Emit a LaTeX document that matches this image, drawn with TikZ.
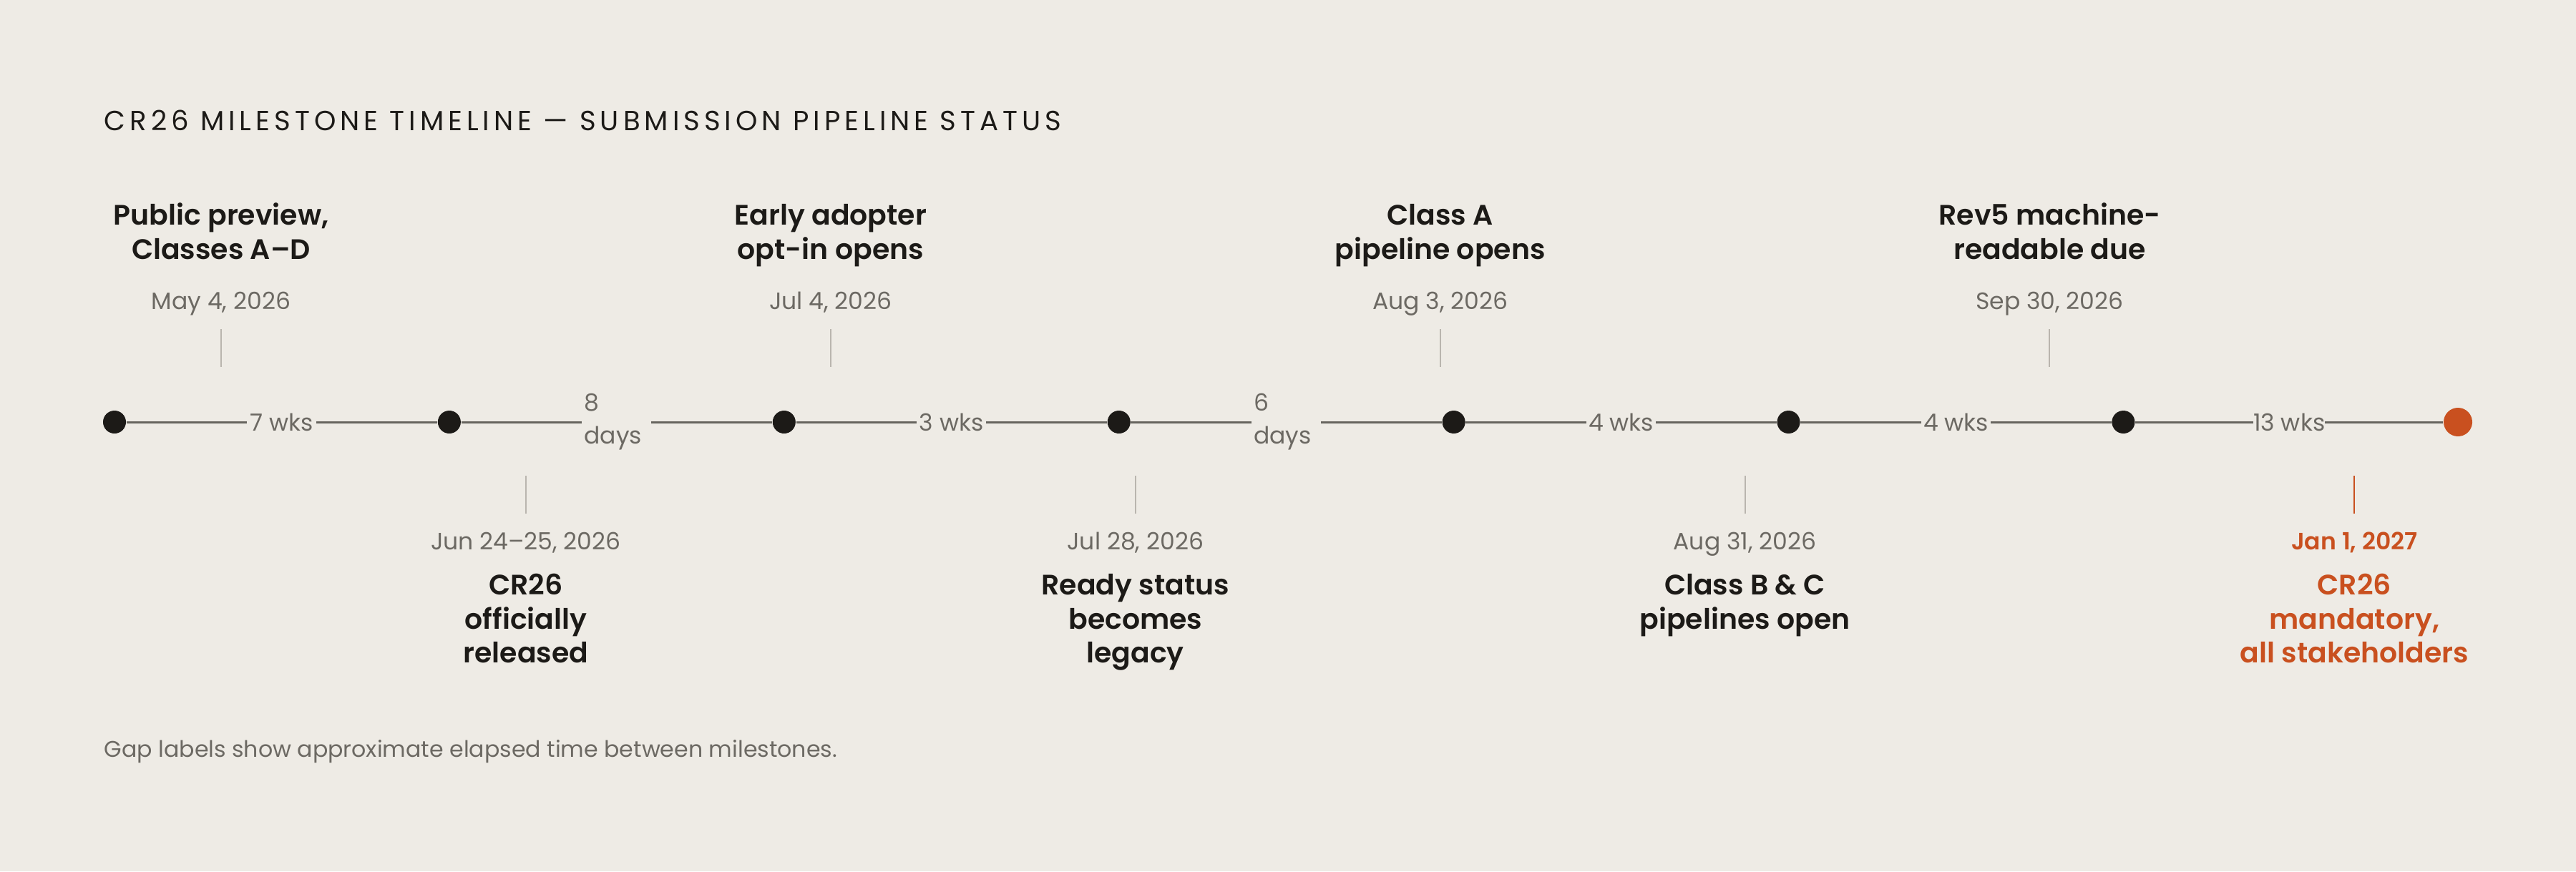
\documentclass[tikz,border=0pt]{standalone}
\usepackage{fontspec}
\setmainfont{Poppins}
\newfontfamily\semibold{Poppins SemiBold}
\newfontfamily\tracked[LetterSpace=15.5]{Poppins}
\usepackage{tikz}
\usetikzlibrary{calc}
\definecolor{paper}{HTML}{EEEBE5}
\definecolor{ink}{HTML}{1C1A17}
\definecolor{rail}{HTML}{66645E}
\definecolor{muted}{HTML}{6C6963}
\definecolor{hair}{HTML}{B9B5AE}
\definecolor{accent}{HTML}{C9501F}
\tikzset{
  dot/.style={circle,fill=ink,inner sep=0pt,minimum size=0.32cm},
  rail/.style={draw=rail,line width=0.03cm},
  gap/.style={fill=paper,inner xsep=0pt,inner ysep=1pt,minimum width=0.97cm,text=muted,font=\fontsize{9.4}{13.1}\selectfont},
  gapwrap/.style={gap,text width=0.91cm,align=left,inner xsep=0.03cm},
  tick/.style={draw=hair,line width=0.02cm},
  date/.style={anchor=base,text=muted,inner sep=0pt,font=\fontsize{9.4}{12}\selectfont},
  event/.style={align=center,inner sep=0pt,text=ink,font=\semibold\fontsize{11.2}{13.5}\selectfont},
  up/.style={event,anchor=south},
  down/.style={event,anchor=north}
}
\begin{document}
\begin{tikzpicture}
\fill[paper](0,0)rectangle(36,-12.18);
\useasboundingbox(0,0)rectangle(36,-12.18);
\node[anchor=base west,inner sep=0pt,text=ink,font=\tracked\fontsize{11}{13}\selectfont](title)at(1.45,-1.82){CR26 MILESTONE TIMELINE — SUBMISSION PIPELINE STATUS};
\foreach \i in {1,...,7}
  \node[dot](d\i)at({1.60+4.679*(\i-1)},-5.90){};
\node[dot,fill=accent,minimum size=0.40cm](d8)at(34.35,-5.90){};
\draw[rail](d1)--node[gap]{7 wks}(d2);
\draw[rail](d2)--node[gapwrap]{8\\days}(d3);
\draw[rail](d3)--node[gap]{3 wks}(d4);
\draw[rail](d4)--node[gapwrap]{6\\days}(d5);
\draw[rail](d5)--node[gap]{4 wks}(d6);
\draw[rail](d6)--node[gap]{4 wks}(d7);
\draw[rail](d7)--node[gap]{13 wks}(d8);
\node[date](m1)at(3.09,-4.32){May 4, 2026};
\node[up](e1)at(3.09,-3.7725){Public preview,\\Classes A–D\strut};
\draw[tick]($(m1.base)+(0,-0.28)$)--++(0,-0.53);
\node[date](m2)at(7.349,-7.68){Jun 24–25, 2026};
\node[down](e2)at(7.349,-7.9775){\strut CR26\\officially\\released};
\draw[tick]($(m2.base)+(0,0.50)$)--++(0,0.53);
\node[date](m3)at(11.608,-4.32){Jul 4, 2026};
\node[up](e3)at(11.608,-3.7725){Early adopter\\opt-in opens\strut};
\draw[tick]($(m3.base)+(0,-0.28)$)--++(0,-0.53);
\node[date](m4)at(15.867,-7.68){Jul 28, 2026};
\node[down](e4)at(15.867,-7.9775){\strut Ready status\\becomes\\legacy};
\draw[tick]($(m4.base)+(0,0.50)$)--++(0,0.53);
\node[date](m5)at(20.126,-4.32){Aug 3, 2026};
\node[up](e5)at(20.126,-3.7725){Class A\\pipeline opens\strut};
\draw[tick]($(m5.base)+(0,-0.28)$)--++(0,-0.53);
\node[date](m6)at(24.385,-7.68){Aug 31, 2026};
\node[down](e6)at(24.385,-7.9775){\strut Class B \& C\\pipelines open};
\draw[tick]($(m6.base)+(0,0.50)$)--++(0,0.53);
\node[date](m7)at(28.644,-4.32){Sep 30, 2026};
\node[up](e7)at(28.644,-3.7725){Rev5 machine-\\readable due\strut};
\draw[tick]($(m7.base)+(0,-0.28)$)--++(0,-0.53);
\node[date,text=accent,font=\semibold\fontsize{9.4}{12}\selectfont](m8)at(32.903,-7.68){Jan 1, 2027};
\node[down,text=accent](e8)at(32.903,-7.9775){\strut CR26\\mandatory,\\all stakeholders};
\draw[tick,draw=accent]($(m8.base)+(0,0.50)$)--++(0,0.53);
\node[anchor=base west,inner sep=0pt,text=muted,font=\fontsize{9.0}{12}\selectfont](note)at(1.45,-10.58){Gap labels show approximate elapsed time between milestones.};
\end{tikzpicture}
\end{document}
